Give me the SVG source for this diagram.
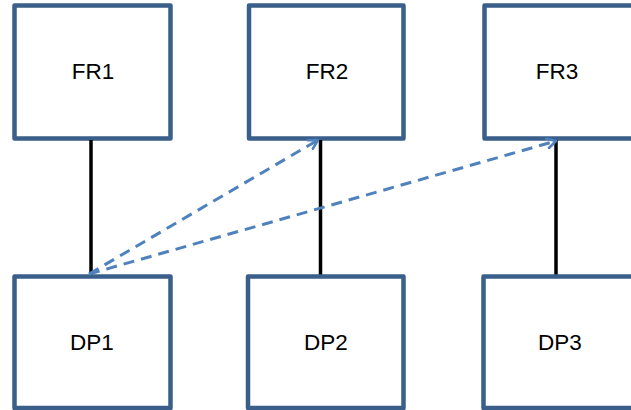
<svg xmlns="http://www.w3.org/2000/svg" width="631" height="410" viewBox="0 0 631 410">
  <style>
    .box { fill: #ffffff; stroke: #3a5f8b; stroke-width: 4.5; stroke-linejoin: round; }
    .label { font-family: "Liberation Sans", Arial, sans-serif; font-size: 22.5px; fill: #000000; text-anchor: middle; }
    .link { stroke: #000000; stroke-width: 3.5; fill: none; }
    .dash { stroke: #4f81bd; stroke-width: 3; fill: none; stroke-dasharray: 11 7; marker-end: url(#open); }
  </style>
  <defs>
    <marker id="open" viewBox="0 0 12 12" refX="10" refY="6" markerWidth="12" markerHeight="12" markerUnits="userSpaceOnUse" orient="auto">
      <path d="M1,1 L10,6 L1,11" fill="none" stroke="#4f81bd" stroke-width="2.6" stroke-linecap="round" stroke-linejoin="round"/>
    </marker>
  </defs>

  <rect width="631" height="410" fill="#ffffff"/>

  <g id="FR1"><rect class="box" x="14.5" y="5.5" width="156" height="133"/><text class="label" x="93" y="79">FR1</text></g>
  <g id="FR2"><rect class="box" x="249" y="5.5" width="154.5" height="133"/><text class="label" x="327" y="79">FR2</text></g>
  <g id="FR3"><rect class="box" x="484.5" y="5.5" width="156" height="133"/><text class="label" x="557" y="79">FR3</text></g>
  <g id="DP1"><rect class="box" x="14.5" y="276.5" width="156" height="131.5"/><text class="label" x="92" y="350">DP1</text></g>
  <g id="DP2"><rect class="box" x="248" y="276.5" width="155.5" height="131.5"/><text class="label" x="326" y="350">DP2</text></g>
  <g id="DP3"><rect class="box" x="483.5" y="276.5" width="156" height="131.5"/><text class="label" x="560" y="350">DP3</text></g>

  <g id="connectors">
    <line class="link" x1="91" y1="140" x2="91" y2="274.5"/>
    <line class="link" x1="320.5" y1="140" x2="320.5" y2="274.5"/>
    <line class="link" x1="556" y1="140" x2="556" y2="274.5"/>
    <line class="dash" x1="89" y1="274" x2="318" y2="140"/>
    <line class="dash" x1="89" y1="274" x2="556" y2="141"/>
  </g>
</svg>
